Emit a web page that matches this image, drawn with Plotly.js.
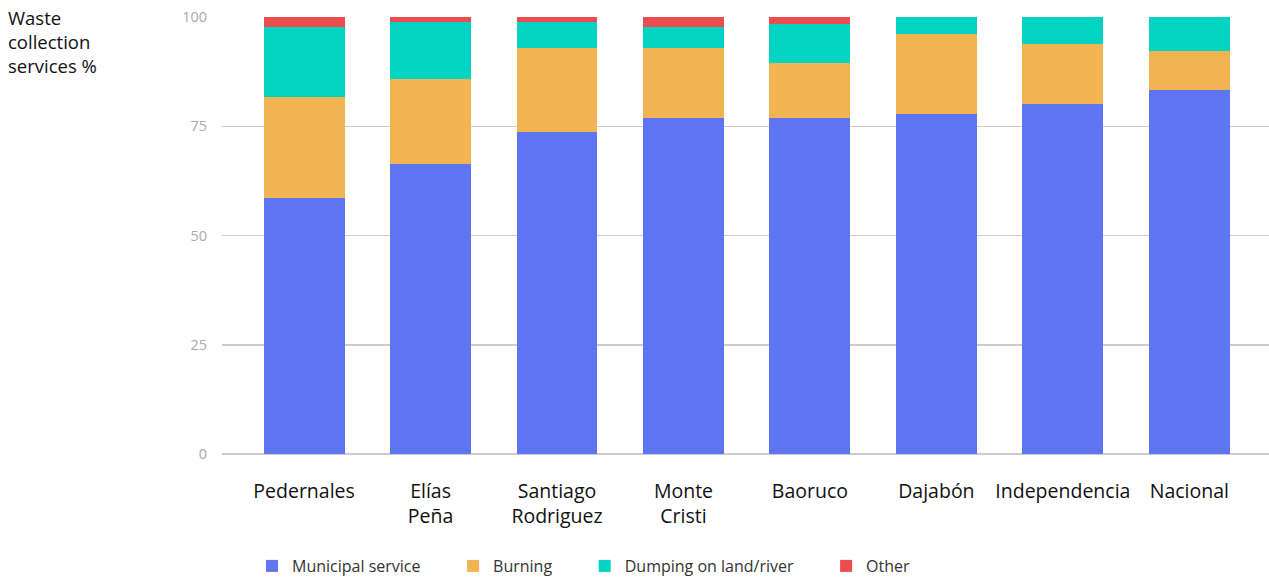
<!DOCTYPE html>
<html>
<head>
<meta charset="utf-8">
<script src="https://cdn.plot.ly/plotly-3.0.1.min.js"></script>
<style>html,body{margin:0;padding:0;background:#fff}#chart{width:1269px;height:579px}</style>
</head>
<body>
<div id="chart"></div>
<script>
var categories = ["Pedernales", "Elías<br>Peña", "Santiago<br>Rodriguez", "Monte<br>Cristi", "Baoruco", "Dajabón", "Independencia", "Nacional"];
var municipal = [58.5, 66.3, 73.6, 77.0, 77.0, 77.9, 80.2, 83.2];
var burning   = [23.1, 19.4, 19.4, 16.0, 12.4, 18.1, 13.7, 9.1];
var dumping   = [16.0, 13.1, 5.8, 4.6, 9.1, 4.0, 6.1, 7.7];
var other     = [2.4, 1.2, 1.2, 2.4, 1.5, 0, 0, 0];
var seriesNames = ["Municipal service", "Burning", "Dumping on land/river", "Other"];
var colors = ["#5E74F1", "#F2B451", "#03D3C2", "#EB4D4F"];
var yTicks = [0, 25, 50, 75, 100];

var FONT = "'Open Sans', 'Noto Sans', sans-serif";
var PAD = "&nbsp;&nbsp;&nbsp;&nbsp;&nbsp;&nbsp;&#8201;";
var seriesData = [municipal, burning, dumping, other];
var traces = seriesData.map(function(vals, i){
  return {
    type: "bar", x: categories, y: vals, name: seriesNames[i] + (i < 3 ? PAD : ""),
    marker: {color: colors[i], line: {width: 0}},
    hoverinfo: "x+y"
  };
});

var L = 222, W = 1269 - L;
var layout = {
  width: 1269, height: 579,
  margin: {l: L, r: 0, t: 17, b: 125, autoexpand: false},
  barmode: "stack",
  bargap: 0.36,
  paper_bgcolor: "#fff", plot_bgcolor: "#fff",
  font: {family: FONT, color: "#111"},
  xaxis: {
    type: "category",
    range: [-0.649, 7.63],
    showgrid: false, zeroline: false, showline: false,
    ticks: "", tickangle: 0, automargin: false,
    tickfont: {size: 19.5, color: "#111", family: FONT},
    ticklabelstandoff: 23
  },
  yaxis: {
    range: [0, 100], automargin: false,
    tickvals: yTicks, ticktext: yTicks.map(String),
    showgrid: true, gridcolor: "#cccccc", gridwidth: 1.5,
    zeroline: true, zerolinecolor: "#cccccc", zerolinewidth: 1.5,
    showline: false, ticks: "",
    tickfont: {size: 14.5, color: "#aaaaaa", family: FONT},
    ticklabelstandoff: 14
  },
  legend: {
    orientation: "h", xref: "container", yref: "container",
    x: 252 / 1269, xanchor: "left", y: 1 - 549 / 579, yanchor: "top",
    font: {size: 16, color: "#333", family: FONT},
    traceorder: "normal", bgcolor: "rgba(0,0,0,0)"
  },
  annotations: [{
    xref: "paper", yref: "paper", x: -(L - 6) / W, y: 1 + 14 / 437, xanchor: "left", yanchor: "top",
    text: "Waste<br>collection<br>services %", showarrow: false, align: "left",
    font: {size: 18.5, color: "#111", family: FONT}
  }],
  showlegend: true
};

Plotly.newPlot("chart", traces, layout, {displayModeBar: false, staticPlot: true});
</script>
</body>
</html>
